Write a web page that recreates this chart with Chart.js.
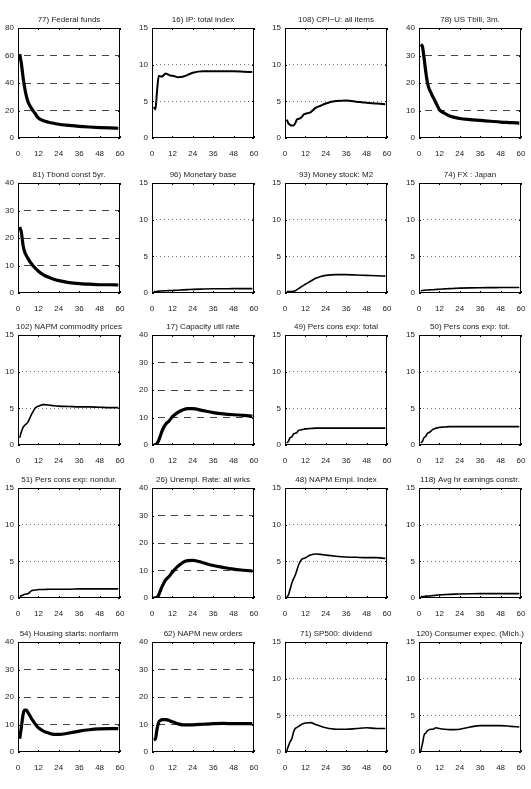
<!DOCTYPE html>
<html>
<head>
<meta charset="utf-8">
<script src="https://cdn.jsdelivr.net/npm/chart.js@4"></script>
<style>
html, body { margin: 0; padding: 0; background: #fff; overflow: hidden; }
#wrap { position: relative; width: 531px; height: 789px; }
#wrap canvas { position: absolute; }
</style>
</head>
<body>
<div id="wrap"></div>
<script>
// months after the shock at which values were read
const horizons = [1, 2, 3, 4, 5, 6, 7, 8, 9, 10, 11, 12, 15, 18, 21, 24, 30, 36, 42, 48, 54, 59]
const xTicks = [0, 12, 24, 36, 48, 60]

const titles = [
    '77) Federal funds', '16) IP: total index', '108) CPI\u2212U: all items', '78) US Tbill, 3m.',
    '81) Tbond const 5yr.', '96) Monetary base', '93) Money stock: M2', '74) FX : Japan',
    '102) NAPM commodity prices', '17) Capacity util rate', '49) Pers cons exp: total', '50) Pers cons exp: tot.',
    '51) Pers cons exp: nondur.', '26) Unempl. Rate: all wrks', '48) NAPM Empl. Index', '118) Avg hr earnings constr.',
    '54) Housing starts: nonfarm', '62) NAPM new orders', '71) SP500: dividend', '120) Consumer expec. (Mich.)'
]
const yMax = [80, 15, 15, 40, 40, 15, 15, 15, 15, 40, 15, 15, 15, 40, 15, 15, 40, 40, 15, 15]

const fedFunds    = [61, 54, 44, 36, 30, 26, 23.5, 21.5, 19.5, 18, 16, 14.5, 12.5, 11.5, 10.7, 10, 9.2, 8.5, 8, 7.6, 7.3, 7.1]
const ipTotal     = [4.2, 3.9, 6.5, 8.5, 8.4, 8.4, 8.6, 8.8, 8.7, 8.6, 8.5, 8.5, 8.3, 8.35, 8.6, 8.9, 9.1, 9.1, 9.1, 9.1, 9.05, 9.0]
const cpiAll      = [2.5, 2.0, 1.8, 1.7, 1.7, 2.0, 2.5, 2.6, 2.7, 2.9, 3.2, 3.3, 3.5, 4.1, 4.4, 4.7, 5.05, 5.1, 4.95, 4.8, 4.7, 4.6]
const tbill3m     = [34, 33.3, 29, 24, 20, 17.8, 16.5, 15.2, 14, 12.7, 11.5, 10.3, 9, 8, 7.5, 7.1, 6.7, 6.4, 6.1, 5.8, 5.6, 5.4]
const tbond5y     = [24, 22, 17.3, 14.8, 13.5, 12.4, 11.4, 10.6, 9.8, 9.1, 8.5, 7.9, 6.6, 5.7, 5.0, 4.5, 3.8, 3.4, 3.2, 3.0, 3.0, 2.9]
const monBase     = [0.2, 0.2, 0.22, 0.25, 0.27, 0.28, 0.3, 0.3, 0.32, 0.33, 0.34, 0.35, 0.38, 0.42, 0.46, 0.5, 0.54, 0.57, 0.58, 0.6, 0.6, 0.6]
const moneyM2     = [0.2, 0.2, 0.2, 0.2, 0.25, 0.3, 0.45, 0.6, 0.75, 0.9, 1.05, 1.2, 1.6, 2.0, 2.25, 2.4, 2.5, 2.5, 2.45, 2.4, 2.35, 2.3]
const fxJapan     = [0.3, 0.35, 0.38, 0.4, 0.4, 0.42, 0.44, 0.45, 0.46, 0.48, 0.5, 0.52, 0.56, 0.6, 0.63, 0.66, 0.7, 0.72, 0.73, 0.74, 0.75, 0.75]
const napmComm    = [1.0, 1.8, 2.4, 2.7, 2.9, 3.2, 3.7, 4.2, 4.6, 5.0, 5.2, 5.3, 5.5, 5.45, 5.35, 5.3, 5.25, 5.2, 5.2, 5.15, 5.1, 5.1]
const capUtil     = [0, 0.1, 0.6, 1.8, 3.5, 5.2, 6.5, 7.5, 8.2, 8.7, 9.5, 10.3, 11.8, 12.7, 13.2, 13.2, 12.5, 11.8, 11.3, 11.0, 10.8, 10.5]
const pceTotal    = [0.3, 0.5, 1.0, 1.1, 1.5, 1.6, 1.7, 2.0, 2.05, 2.1, 2.15, 2.2, 2.25, 2.3, 2.3, 2.3, 2.3, 2.3, 2.3, 2.3, 2.3, 2.3]
const pceTot      = [0.3, 0.5, 1.0, 1.2, 1.6, 1.7, 1.9, 2.1, 2.2, 2.3, 2.35, 2.4, 2.45, 2.5, 2.5, 2.5, 2.5, 2.5, 2.5, 2.5, 2.5, 2.5]
const pceNondur   = [0.2, 0.3, 0.4, 0.5, 0.55, 0.6, 0.8, 1.0, 1.05, 1.1, 1.1, 1.15, 1.15, 1.2, 1.2, 1.2, 1.2, 1.25, 1.25, 1.25, 1.25, 1.25]
const unemplRate  = [0, 0.1, 0.2, 1.2, 2.8, 4.2, 5.5, 6.6, 7.2, 7.8, 8.6, 9.4, 11.4, 12.9, 13.6, 13.7, 12.8, 11.8, 11.1, 10.5, 10.1, 9.8]
const napmEmpl    = [0.2, 0.4, 1.2, 2.0, 2.6, 3.1, 3.8, 4.5, 5.0, 5.3, 5.4, 5.5, 5.85, 6.0, 5.95, 5.85, 5.7, 5.6, 5.55, 5.5, 5.5, 5.4]
const hrEarnings  = [0.2, 0.2, 0.2, 0.25, 0.25, 0.28, 0.3, 0.32, 0.35, 0.38, 0.4, 0.42, 0.46, 0.5, 0.53, 0.55, 0.58, 0.6, 0.6, 0.6, 0.6, 0.6]
const housing     = [4.8, 9.1, 13.7, 15.2, 15.2, 14.2, 13.2, 12.1, 11.2, 10.3, 9.5, 8.8, 7.6, 6.9, 6.4, 6.4, 6.9, 7.6, 8.1, 8.4, 8.5, 8.5]
const napmOrders  = [4.5, 4.8, 8.5, 10.9, 11.5, 11.8, 11.8, 11.8, 11.7, 11.5, 11.2, 11.0, 10.3, 9.9, 9.9, 9.9, 10.1, 10.3, 10.4, 10.3, 10.3, 10.3]
const sp500Div    = [0.15, 0.8, 1.4, 1.8, 2.7, 3.2, 3.35, 3.5, 3.65, 3.8, 3.9, 3.95, 4.0, 3.75, 3.5, 3.3, 3.1, 3.1, 3.2, 3.3, 3.2, 3.2]
const consExpec   = [0.1, 1.1, 2.3, 2.6, 2.9, 3.05, 3.1, 3.1, 3.2, 3.3, 3.25, 3.2, 3.1, 3.05, 3.05, 3.1, 3.4, 3.6, 3.6, 3.6, 3.5, 3.4]

const series = [
    fedFunds, ipTotal, cpiAll, tbill3m,
    tbond5y, monBase, moneyM2, fxJapan,
    napmComm, capUtil, pceTotal, pceTot,
    pceNondur, unemplRate, napmEmpl, hrEarnings,
    housing, napmOrders, sp500Div, consExpec
]

// layout / style
const boxLeft = [18, 152, 285, 419]
const boxTop = [28, 183, 335, 488, 642]
const boxW = 102, boxH = 110, side = 18, head = 16
const heavy = new Set([0, 3, 4, 9, 13, 16, 17])
const textColor = '#222'
const fontFamily = '"Liberation Sans", Arial, sans-serif'

Chart.defaults.font.family = fontFamily
Chart.defaults.font.size = 8
Chart.defaults.color = textColor

// box, inward tick marks and the title centred over the box
const frame = {
    id: 'frame',
    afterDraw(chart, args, opts){
        const {ctx, chartArea: a, scales: {x, y}} = chart
        ctx.save()
        ctx.strokeStyle = '#000'
        ctx.lineWidth = 1
        ctx.strokeRect(a.left + 0.5, a.top + 0.5, a.width - 1, a.height - 1)
        ctx.beginPath()
        x.ticks.forEach(t => {
            const px = Math.round(x.getPixelForValue(t.value)) + 0.5
            ctx.moveTo(px, a.top); ctx.lineTo(px, a.top + 2)
            ctx.moveTo(px, a.bottom); ctx.lineTo(px, a.bottom - 2)
        })
        y.ticks.forEach(t => {
            const py = Math.round(y.getPixelForValue(t.value)) + 0.5
            ctx.moveTo(a.left, py); ctx.lineTo(a.left + 2, py)
            ctx.moveTo(a.right, py); ctx.lineTo(a.right - 2, py)
        })
        ctx.stroke()

        ctx.fillStyle = textColor
        ctx.font = '8px ' + fontFamily
        ctx.textAlign = 'center'
        ctx.textBaseline = 'middle'
        ctx.fillText(opts.text, (a.left + a.right) / 2, a.top - 8)
        ctx.restore()
    }
}

const wrap = document.getElementById('wrap')

series.forEach((vals, i) => {
    const row = Math.floor(i / 4), col = i % 4
    const max = yMax[i]
    const dotted = max === 15

    const canvas = document.createElement('canvas')
    canvas.width = side + boxW + side
    canvas.height = head + boxH + 18
    canvas.style.left = (boxLeft[col] - side) + 'px'
    canvas.style.top = (boxTop[row] - head) + 'px'
    wrap.appendChild(canvas)

    new Chart(canvas, {
        type: 'line',
        data: {
            datasets: [{
                data: horizons.map((h, k) => ({x: h, y: vals[k]})),
                borderColor: '#000',
                borderWidth: heavy.has(i) ? 3.2 : (i === 1 || i === 2 ? 2 : 1.6),
                pointRadius: 0,
                cubicInterpolationMode: 'monotone',
                fill: false
            }]
        },
        options: {
            responsive: false,
            animation: false,
            events: [],
            layout: { padding: { left: 0, right: side, top: head, bottom: 0 } },
            plugins: {
                legend: { display: false },
                tooltip: { enabled: false },
                title: { display: false },
                frame: { text: titles[i] }
            },
            scales: {
                x: {
                    type: 'linear',
                    min: 0,
                    max: 60,
                    afterBuildTicks: s => { s.ticks = xTicks.map(v => ({value: v})) },
                    afterFit: s => { s.height = 18 },
                    grid: { display: false },
                    border: { display: false },
                    ticks: { padding: 3, maxRotation: 0, color: textColor }
                },
                y: {
                    min: 0,
                    max: max,
                    afterFit: s => { s.width = side },
                    ticks: { stepSize: max === 80 ? 20 : (max === 40 ? 10 : 5), padding: 4, color: textColor },
                    grid: {
                        drawTicks: false,
                        lineWidth: 1,
                        color: c => (c.tick && c.tick.value > 0 && c.tick.value < max) ? (dotted ? '#777' : '#444') : 'rgba(0,0,0,0)'
                    },
                    border: { display: false, dash: dotted ? [1, 3] : [7, 6], dashOffset: dotted ? 0 : 7 }
                }
            }
        },
        plugins: [frame]
    })
})
</script>
</body>
</html>
